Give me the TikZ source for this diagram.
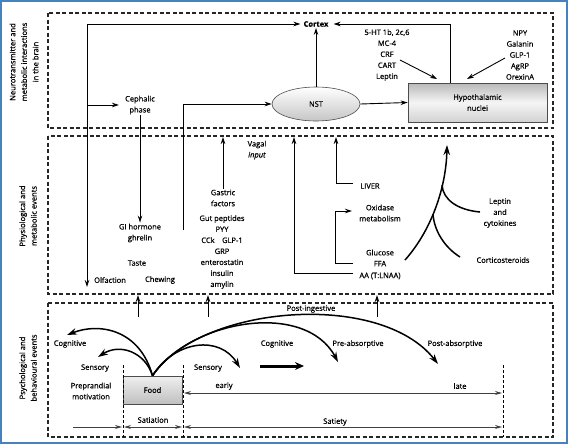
\documentclass[tikz,border=0pt]{standalone}
\usepackage{fontspec}
\setmainfont{Open Sans}[FakeBold=0.7]
\usetikzlibrary{arrows.meta,shapes.geometric,calc}
\newcommand\myfs{\fontsize{7.5}{11}\selectfont}
\tikzset{
  lbl/.style={font=\myfs, inner sep=1pt, align=center},
  side/.style={font=\fontsize{7.6}{11.5}\selectfont, inner sep=1pt, align=center, rotate=90},
  band/.style={draw=black!85, dash pattern=on 4pt off 2.5pt, line width=1.1pt},
  arr/.style={-{Stealth[length=7pt,width=4.5pt]}, line width=0.9pt},
  barr/.style={-{Stealth[length=10pt,width=6.5pt]}, line width=1.5pt},
  tline/.style={line width=1.5pt},
  dbl/.style={{Stealth[length=7pt,width=4pt]}-{Stealth[length=7pt,width=4pt]}, line width=0.9pt, draw=black!75},
  rarr/.style={-{Stealth[length=7pt,width=4pt]}, line width=0.9pt, draw=black!75},
  vdash/.style={dash pattern=on 3pt off 2pt, line width=0.9pt},
}
\begin{document}
\begin{tikzpicture}[x=1pt,y=-1pt]
\useasboundingbox (0,0) rectangle (569,445);
\fill[white] (0,0) rectangle (569,445);
\draw[draw={rgb,255:red,70;green,130;blue,190}, line width=1.5pt] (1,1) rectangle (567,443);

% bands
\draw[band] (48,13) rectangle (553,128);
\draw[band] (48,136) rectangle (553,294);
\draw[band] (48,303) rectangle (553,437);

% side labels
\node[side] (s1) at (24,62) {Neurotransmitter and\\metabolic interactions\\in the brain};
\node[side] (s2) at (28,216) {Physiological and\\metabolic events};
\node[side] (s3) at (28,368) {Psychological and\\behavioural events};

% top band
\node[lbl] (cortex) at (316,24) {\textbf{Cortex}};
\node[lbl, ellipse, draw=black!70, line width=0.6pt, top color=white, bottom color=gray!45,
      minimum width=88pt, minimum height=34pt] (nst) at (316,104) {NST};
\node[lbl, draw=black!70, line width=0.6pt, minimum width=139pt, minimum height=39pt,
      top color=gray!55, bottom color=gray!35, middle color=gray!8] (hyp) at (477.5,102.5) {Hypothalamic\\nuclei};
\node[lbl] (ceph) at (140,105) {Cephalic\\phase};
\node[lbl] (llist) at (387,55) {5-HT 1b, 2c,6\\MC-4\\CRF\\CART\\Leptin};
\node[lbl] (rlist) at (520,55) {NPY\\Galanin\\GLP-1\\AgRP\\OrexinA};

% middle band
\node[lbl] (ghrelin) at (140,233) {GI hormone\\ghrelin};
\node[lbl] (taste) at (137,263) {Taste};
\node[lbl] (olf) at (110,280) {Olfaction};
\node[lbl] (chew) at (160,280) {Chewing};
\node[lbl] (vagal) at (257,150) {Vagal\\\textit{input}};
\node[lbl] (gastric) at (223,198) {Gastric\\factors};
\node[lbl] (gut) at (222,252) {Gut peptides\\PYY\\CCk\quad GLP-1\\GRP\\enterostatin\\insulin\\amylin};
\node[lbl] (liver) at (370,186) {LIVER};
\node[lbl] (oxi) at (380,213) {Oxidase\\metabolism};
\node[lbl] (gluc) at (380,258) {Glucose\\FFA};
\node[lbl] (aa) at (380,276) {AA (T:LNAA)};
\node[lbl] (lept) at (500,213) {Leptin\\and\\cytokines};
\node[lbl] (cort) at (503,260) {Corticosteroids};

% bottom band
\node[lbl, draw=black!70, line width=0.6pt, minimum width=59pt, minimum height=28pt,
      top color=gray!12, bottom color=gray!50] (food) at (152.5,390) {Food};
\node[lbl] (cogl) at (70,344) {Cognitive};
\node[lbl] (sensl) at (95,368) {Sensory};
\node[lbl] (prep) at (91,391) {Preprandial\\motivation};
\node[lbl] (sensr) at (208,368) {Sensory};
\node[lbl] (early) at (224,386) {early};
\node[lbl] (cogm) at (277,344) {Cognitive};
\node[lbl] (preabs) at (358,344) {Pre-absorptive};
\node[lbl] (postabs) at (455,344) {Post-absorptive};
\node[lbl] (posting) at (311,309) {Post-ingestive};
\node[lbl] (late) at (460,386) {late};
\node[lbl] (satiation) at (153,420) {Satiation};
\node[lbl] (satiety) at (335,422) {Satiety};

% coordinates
\coordinate (lt) at (87,24);
\coordinate (lm) at (87,105);
\coordinate (lb) at (87,287);
\coordinate (gl) at (183,230);
\coordinate (ht) at (450,83);
\coordinate (la1) at (400,60);
\coordinate (la2) at (437,79);
\coordinate (ra1) at (505,58);
\coordinate (ra2) at (467,79);
\coordinate (vt) at (223,137);
\coordinate (aat) at (294,137);
\coordinate (aab) at (294,273);
\coordinate (aae) at (353,273);
\coordinate (lvt) at (336,137);
\coordinate (lvb) at (336,183);
\coordinate (lve) at (353,183);
\coordinate (bbe) at (353,263);
\coordinate (bb) at (335,263);
\coordinate (bt) at (335,211);
\coordinate (bte) at (352,211);
\coordinate (g0) at (405,260);
\coordinate (g1) at (447,145);
\coordinate (c0) at (460,257);
\coordinate (c1) at (433,214);
\coordinate (p0) at (480,212);
\coordinate (p1) at (442,185);

% top connectors
\draw[arr] (lt) -- (lb);
\draw[arr] (lt) -- ([xshift=-2pt]cortex.west);
\draw[arr] (lm) -- ([xshift=-5pt]ceph.west);
\draw[arr] (ceph.south) -- (ghrelin.north);
\draw[arr] (gl) |- (nst.west);
\draw[arr] (nst.north) -- (cortex.south);
\draw[arr] (nst.east) -- (hyp.west);
\draw[arr] (ht) |- ([xshift=4pt]cortex.east);
\draw[arr] (la1) -- (la2);
\draw[arr] (ra1) -- (ra2);

% middle connectors
\draw[arr] (gastric.north) -- (vt);
\draw[arr] (aae) -- (aab) -- (aat);
\draw[arr] (lve) -- (lvb) -- (lvt);
\draw[arr] (bbe) -- (bb) -- (bt) -- (bte);
\draw[barr] (g0) .. controls (430,232) and (446,190) .. (g1);
\draw[tline] (c0) .. controls (444,247) and (434,230) .. (c1);
\draw[tline] (p0) .. controls (458,210) and (443,200) .. (p1);

% between bands
\coordinate (u1a) at (138,317); \coordinate (u1b) at (138,295);
\coordinate (u2a) at (208,317); \coordinate (u2b) at (208,295);
\coordinate (u3a) at (377,317); \coordinate (u3b) at (377,295);
\draw[arr] (u1a) -- (u1b);
\draw[arr] (u2a) -- (u2b);
\draw[arr] (u3a) -- (u3b);

% bottom curves
\coordinate (t1) at (67,335);
\coordinate (t2) at (98,357);
\coordinate (t3) at (240,368);
\coordinate (t4) at (338,362);
\coordinate (t5) at (438,364);
\draw[barr] (food.north) .. controls (140,330) and (100,322) .. (t1);
\draw[barr] (food.north) .. controls (145,352) and (120,343) .. (t2);
\draw[barr] (food.north) .. controls (175,340) and (220,335) .. (t3);
\draw[barr] (food.north) .. controls (190,320) and (305,300) .. (t4);
\draw[barr] (food.north) .. controls (200,305) and (380,290) .. (t5);

\coordinate (th0) at (260,366); \coordinate (th1) at (304,366);
\draw[-{Stealth[length=9pt,width=8pt]}, line width=3pt] (th0) -- (th1);

% dashed verticals
\draw[vdash] (123,365) -- (123,437);
\draw[vdash] (183,365) -- (183,437);
\draw[vdash] (503,365) -- (503,437);

% horizontal ranges
\coordinate (e0) at (184,393); \coordinate (e1) at (502,393);
\draw[dbl] (e0) -- (e1);
\coordinate (r0) at (73,427); \coordinate (r1) at (122,427);
\draw[rarr] (r0) -- (r1);
\coordinate (s0) at (124,427); \coordinate (s1r) at (182,427);
\draw[dbl] (s0) -- (s1r);
\coordinate (y0) at (184,427); \coordinate (y1) at (502,427);
\draw[dbl] (y0) -- (y1);
\end{tikzpicture}
\end{document}
